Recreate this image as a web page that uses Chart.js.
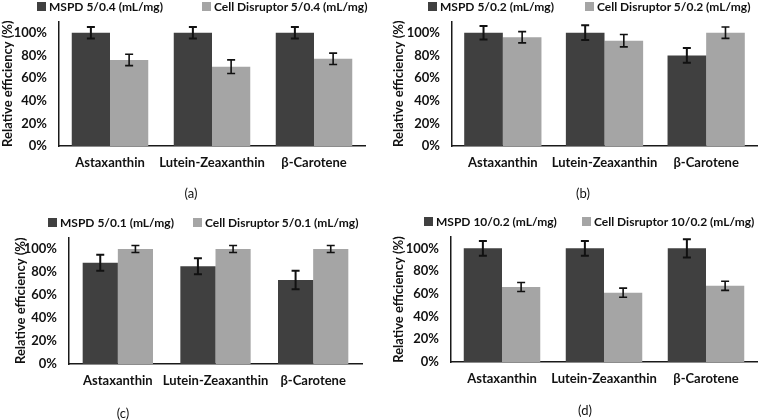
<!DOCTYPE html>
<html>
<head>
<meta charset="utf-8">
<script src="https://cdn.jsdelivr.net/npm/chart.js@4"></script>
<style>
  body { margin: 0; background: #fff; }
  #wrap { position: relative; width: 770px; height: 420px; font-family: Lato, sans-serif; color: #111; }
  .panel { position: absolute; width: 385px; height: 210px; }
  .legend-item { position: absolute; font-size: 12px; font-weight: bold; white-space: nowrap; line-height: 14px; }
  .legend-item i { display: inline-block; width: 9px; height: 9px; margin-right: 3px; vertical-align: 0px; }
  .caption { position: absolute; font-size: 13px; transform: translate(-50%, -50%); }
</style>
</head>
<body>
<div id="wrap"></div>
<script>
// Données
const categories = ['Astaxanthin', 'Lutein-Zeaxanthin', 'β-Carotene'];
const yTicks = [0, 20, 40, 60, 80, 100];

const mspdA = [100, 100, 100];
const mspdErrA = [5, 5, 5];
const cellA = [76, 70, 77];
const cellErrA = [5, 6, 5];
const labelsA = ['MSPD 5/0.4 (mL/mg)', 'Cell Disruptor 5/0.4 (mL/mg)'];

const mspdB = [100, 100, 80];
const mspdErrB = [6, 6.5, 6.5];
const cellB = [96, 93, 100];
const cellErrB = [5, 5.5, 5];
const labelsB = ['MSPD 5/0.2 (mL/mg)', 'Cell Disruptor 5/0.2 (mL/mg)'];

const mspdC = [88, 85, 73];
const mspdErrC = [7, 7, 8];
const cellC = [100, 100, 100];
const cellErrC = [3, 3, 3];
const labelsC = ['MSPD 5/0.1 (mL/mg)', 'Cell Disruptor 5/0.1 (mL/mg)'];

const mspdD = [100, 100, 100];
const mspdErrD = [6.5, 6.5, 8];
const cellD = [66, 61, 67];
const cellErrD = [4, 4, 4];
const labelsD = ['MSPD 10/0.2 (mL/mg)', 'Cell Disruptor 10/0.2 (mL/mg)'];

const darkColor = '#404040';
const lightColor = '#a5a5a5';

// Mise en page de chaque panneau
const panels = [
    { caption: '(a)', x: 0, y: 0, mspd: mspdA, mspdErr: mspdErrA, cell: cellA, cellErr: cellErrA, labels: labelsA,
      pad: { left: 0, top: 21.4, right: 20, bottom: 24 }, yWidth: 59, cat: 0.75,
      legendX: [37, 202], legendY: 7, capX: 191, capY: 193 },
    { caption: '(b)', x: 385, y: 0, mspd: mspdB, mspdErr: mspdErrB, cell: cellB, cellErr: cellErrB, labels: labelsB,
      pad: { left: 6, top: 21.4, right: 13, bottom: 24 }, yWidth: 61, cat: 0.76,
      legendX: [43, 200], legendY: 7, capX: 583, capY: 193 },
    { caption: '(c)', x: 0, y: 210, mspd: mspdC, mspdErr: mspdErrC, cell: cellC, cellErr: cellErrC, labels: labelsC,
      pad: { left: 13, top: 27.5, right: 23, bottom: 16 }, yWidth: 56, cat: 0.72,
      legendX: [48, 193], legendY: 13, capX: 123, capY: 413 },
    { caption: '(d)', x: 385, y: 210, mspd: mspdD, mspdErr: mspdErrD, cell: cellD, cellErr: cellErrD, labels: labelsD,
      pad: { left: 6, top: 27, right: 13, bottom: 18 }, yWidth: 60, cat: 0.75,
      legendX: [39, 197], legendY: 12, capX: 585, capY: 410 }
];

// Barres d'erreur dessinées avec les échelles du graphique
const errorBars = {
    id: 'errorBars',
    afterDatasetsDraw(chart) {
        const ctx = chart.ctx;
        const yScale = chart.scales.y;
        chart.data.datasets.forEach((ds, i) => {
            const meta = chart.getDatasetMeta(i);
            meta.data.forEach((bar, j) => {
                const top = yScale.getPixelForValue(ds.data[j] + ds.errors[j]);
                const bottom = yScale.getPixelForValue(ds.data[j] - ds.errors[j]);
                ctx.save();
                ctx.strokeStyle = '#111';
                ctx.lineWidth = ds.errWidth;
                ctx.beginPath();
                ctx.moveTo(bar.x, top); ctx.lineTo(bar.x, bottom);
                ctx.moveTo(bar.x - 4, top); ctx.lineTo(bar.x + 4, top);
                ctx.moveTo(bar.x - 4, bottom); ctx.lineTo(bar.x + 4, bottom);
                ctx.stroke();
                ctx.restore();
            });
        });
    }
};

const wrap = document.getElementById('wrap');
const boldFont = { family: 'Lato', size: 13, weight: 'bold' };

panels.forEach(p => {
    const div = document.createElement('div');
    div.className = 'panel';
    div.style.left = p.x + 'px';
    div.style.top = p.y + 'px';
    const canvas = document.createElement('canvas');
    canvas.width = 385;
    canvas.height = 210;
    div.appendChild(canvas);
    wrap.appendChild(div);

    // Légende en HTML
    [darkColor, lightColor].forEach((color, k) => {
        const item = document.createElement('div');
        item.className = 'legend-item';
        item.style.left = (p.x + p.legendX[k]) + 'px';
        item.style.top = (p.y + p.legendY - 7) + 'px';
        item.innerHTML = `<i style="background:${color}"></i>${p.labels[k]}`;
        wrap.appendChild(item);
    });

    const cap = document.createElement('div');
    cap.className = 'caption';
    cap.style.left = p.capX + 'px';
    cap.style.top = p.capY + 'px';
    cap.innerText = p.caption;
    wrap.appendChild(cap);

    new Chart(canvas.getContext('2d'), {
        type: 'bar',
        data: {
            labels: categories,
            datasets: [
                { label: p.labels[0], data: p.mspd, errors: p.mspdErr, errWidth: 2, backgroundColor: darkColor,
                  barPercentage: 1, categoryPercentage: p.cat },
                { label: p.labels[1], data: p.cell, errors: p.cellErr, errWidth: 1.6, backgroundColor: lightColor,
                  barPercentage: 1, categoryPercentage: p.cat }
            ]
        },
        options: {
            responsive: false,
            animation: false,
            layout: { padding: p.pad },
            plugins: { legend: { display: false }, tooltip: { enabled: false } },
            scales: {
                x: {
                    grid: { display: false, drawTicks: false },
                    border: { display: true, color: '#1a1a1a', width: 1.5 },
                    ticks: { font: boldFont, color: '#111', padding: 9, maxRotation: 0, autoSkip: false },
                    afterFit: axis => { axis.height = 40; }
                },
                y: {
                    min: 0,
                    max: 110,
                    grid: { display: false, drawTicks: false },
                    border: { display: true, color: '#1a1a1a', width: 1.5 },
                    ticks: { font: boldFont, color: '#111', padding: 12, callback: v => v + '%' },
                    afterBuildTicks: axis => { axis.ticks = yTicks.map(v => ({ value: v })); },
                    title: { display: true, text: 'Relative efficiency (%)', font: boldFont, color: '#111', padding: 0 },
                    afterFit: axis => { axis.width = p.yWidth; }
                }
            }
        },
        plugins: [errorBars]
    });
});
</script>
</body>
</html>
